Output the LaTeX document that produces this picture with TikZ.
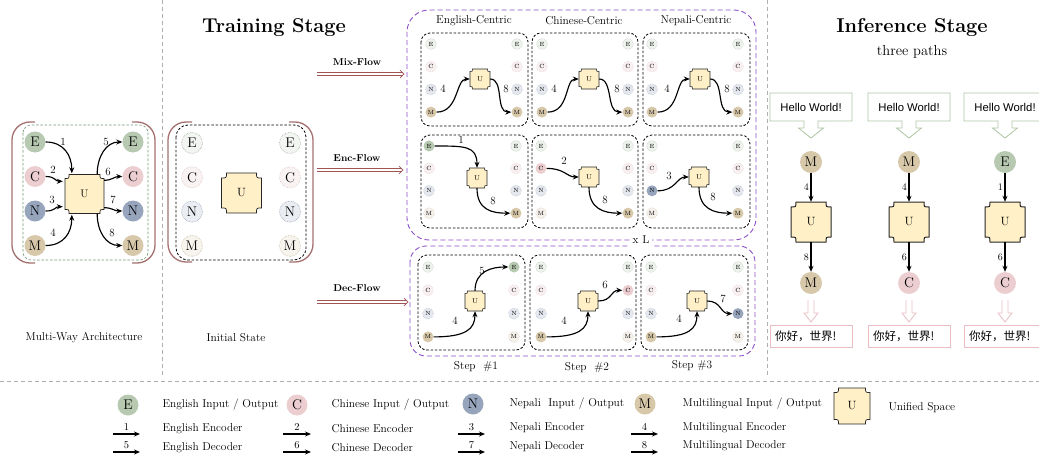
\documentclass[tikz,border=0pt]{standalone}
\usepackage{fontspec}
\newfontfamily\hwfont{Liberation Sans}
\newfontfamily\cjkfont{Noto Sans CJK SC}
\usetikzlibrary{arrows.meta,calc}
\definecolor{cE}{RGB}{183,201,176}
\definecolor{cC}{RGB}{236,206,208}
\definecolor{cN}{RGB}{151,165,188}
\definecolor{cM}{RGB}{216,200,170}
\definecolor{cU}{RGB}{255,240,200}
\definecolor{cPar}{RGB}{165,112,112}
\definecolor{cPur}{RGB}{140,80,200}
\definecolor{cFlow}{RGB}{160,85,85}
\definecolor{cHello}{RGB}{175,195,165}
\definecolor{cNi}{RGB}{232,190,196}
\definecolor{cDiv}{RGB}{175,175,175}
\definecolor{cGdash}{RGB}{120,150,120}
\newcommand\fsz[1]{\fontsize{#1}{#1}\selectfont}
\newcommand\Ushape[6]{%
  \begin{scope}[shift={#2}]
  \path[fill=cU,draw=black!85,line width=#5] (-#3+#4,-#3) -- (#3-#4,-#3)
    .. controls (#3-#4,-#3+#4) .. (#3,-#3+#4) -- (#3,#3-#4)
    .. controls (#3-#4,#3-#4) .. (#3-#4,#3) -- (-#3+#4,#3)
    .. controls (-#3+#4,#3-#4) .. (-#3,#3-#4) -- (-#3,-#3+#4)
    .. controls (-#3+#4,-#3+#4) .. (-#3+#4,-#3) -- cycle;
  \end{scope}
  \node[inner sep=0pt,minimum size=2*#3,font=#6] (#1) at #2 {U};}
\newcommand\gridcol[5]{%
  \foreach \l/\s [count=\i from 0] in {#5} {\node[\s] (#1\l) at (#2,#3+\i*#4) {\l};}}
\newcommand\hello[2]{%
  \draw[cHello,line width=0.8pt] (#2-41,93) -- (#2+41,93) -- (#2+41,121) -- (#2+7,121) -- (#2+7,128) -- (#2+12.5,128) -- (#2,138) -- (#2-12.5,128) -- (#2-7,128) -- (#2-7,121) -- (#2-41,121) -- cycle;
  \node[font=\hwfont\fsz{11.3}] (#1) at (#2,107) {Hello World!};}
\newcommand\hollowdown[1]{%
  \draw[cNi,line width=0.8pt] (#1-3,300) -- (#1-3,313) -- (#1-7,313) -- (#1,322) -- (#1+7,313) -- (#1+3,313) -- (#1+3,300);}
\newcommand\flowarrow[2]{%
  \draw[cFlow,line width=0.7pt] ($(#1)+(0,-1.4)$) -- ($(#2)+(-1.5,-1.4)$);
  \draw[cFlow,line width=0.7pt] ($(#1)+(0,1.4)$) -- ($(#2)+(-1.5,1.4)$);
  \draw[cFlow,line width=0.7pt] ($(#2)+(-4,-3.8)$) -- (#2) -- ($(#2)+(-4,3.8)$);}
\begin{document}
\begin{tikzpicture}[x=1pt,y=-1pt,
 conn/.style={line width=1.15pt,-{Stealth[length=6pt,width=5pt]}},
 num/.style={inner sep=0pt,font=\fsz{11}},
 numi/.style={inner sep=1.5pt,font=\fsz{10}},
 big/.style={circle,inner sep=0pt,minimum size=21pt,font=\fsz{14}},
 bE/.style={big,fill=cE}, bC/.style={big,fill=cC}, bN/.style={big,fill=cN}, bM/.style={big,fill=cM},
 fad/.style={densely dotted,line width=0.6pt},
 fbE/.style={big,fad,fill=cE!18,draw=cE!60!gray},
 fbC/.style={big,fad,fill=cC!25,draw=cC!80!gray},
 fbN/.style={big,fad,fill=cN!20,draw=cN!80!gray},
 fbM/.style={big,fad,fill=cM!20,draw=cM!80!gray},
 sm/.style={circle,inner sep=0pt,minimum size=11pt,font=\fsz{6}},
 sE/.style={sm,fill=cE}, sC/.style={sm,fill=cC}, sN/.style={sm,fill=cN}, sM/.style={sm,fill=cM},
 fE/.style={sm,fad,line width=0.4pt,fill=cE!22,draw=cE!60!gray},
 fC/.style={sm,fad,line width=0.4pt,fill=cC!30,draw=cC!80!gray},
 fN/.style={sm,fad,line width=0.4pt,fill=cN!25,draw=cN!80!gray},
 fM/.style={sm,fad,line width=0.4pt,fill=cM!25,draw=cM!80!gray},
 dbox/.style={line width=0.8pt,rounded corners=9,dash pattern=on 2.5pt off 1.8pt},
 purdash/.style={draw=cPur,line width=0.9pt,dash pattern=on 5pt off 3pt},
 parb/.style={draw=cPar,line width=1.3pt,rounded corners=18},
 flowlbl/.style={font=\bfseries\fsz{10}},
 txt/.style={font=\fsz{11.4}},
 ttl/.style={font=\bfseries\fsz{20}},
 divline/.style={draw=cDiv,line width=0.6pt,dash pattern=on 4pt off 3pt},
]
\useasboundingbox (0,0) rectangle (1039,455);
% dividers
\draw[divline] (162,0) -- (162,377);
\draw[divline] (767,0) -- (767,377);
\draw[divline] (0,381) -- (1039,381);

% ---------- Multi-Way Architecture
\draw[parb] (35,122) -- (12,122) -- (12,263) -- (35,263);
\draw[parb] (132,122) -- (155,122) -- (155,263) -- (132,263);
\draw[cGdash,line width=0.6pt,rounded corners=8,dash pattern=on 2.5pt off 1.8pt] (23,125) rectangle (148,260);
\gridcol{mwL}{35}{142}{34.5}{E/bE,C/bC,N/bN,M/bM}
\gridcol{mwR}{133}{142}{34.5}{E/bE,C/bC,N/bN,M/bM}
\Ushape{mwU}{(84.5,194)}{19.5}{4}{0.7pt}{\fsz{11}}
\draw[conn] (mwLE.east) .. controls +(18,0) and +(0,-18) .. ($(mwU.north west)+(7,-1)$);
\draw[conn] (mwLC.east) .. controls +(10,0) and +(-8,0) .. ($(mwU.north west)+(-2,7)$);
\draw[conn] (mwLN.east) .. controls +(10,0) and +(-8,0) .. ($(mwU.south west)+(-2,-7)$);
\draw[conn] (mwLM.east) .. controls +(18,0) and +(0,18) .. ($(mwU.south west)+(7,1)$);
\draw[conn] ($(mwU.north east)+(-7,0)$) .. controls +(0,-18) and +(-16,0) .. (mwRE.west);
\draw[conn] ($(mwU.north east)+(0,6)$) .. controls +(8,0) and +(-8,0) .. (mwRC.west);
\draw[conn] ($(mwU.south east)+(0,-6)$) .. controls +(8,0) and +(-8,0) .. (mwRN.west);
\draw[conn] ($(mwU.south east)+(-7,0)$) .. controls +(0,18) and +(-16,0) .. (mwRM.west);
\node[num] (mw1) at (63,142) {1};
\node[num] (mw2) at (53,170) {2};
\node[num] (mw3) at (52,200) {3};
\node[num] (mw4) at (53,233) {4};
\node[num] (mw5) at (106,142) {5};
\node[num] (mw6) at (108,172) {6};
\node[num] (mw7) at (113,200) {7};
\node[num] (mw8) at (112,233) {8};
\node[txt] (capMW) at (84,338) {Multi-Way Architecture};

% ---------- Initial State
\draw[parb] (192,122) -- (168,122) -- (168,262) -- (192,262);
\draw[parb] (289,122) -- (313,122) -- (313,262) -- (289,262);
\draw[dbox,rounded corners=12] (176,125) rectangle (306,260);
\gridcol{isL}{192}{143}{34.3}{E/fbE,C/fbC,N/fbN,M/fbM}
\gridcol{isR}{290}{143}{34.3}{E/fbE,C/fbC,N/fbN,M/fbM}
\Ushape{isU}{(241.5,193)}{20}{5}{0.7pt}{\fsz{12}}
\node[txt] (capIS) at (236,338) {Initial State};

% ---------- Training stage titles and flows
\node[ttl] (tTrain) at (274,28) {Training Stage};
\coordinate (mixA) at (317,74); \coordinate (mixB) at (404,74);
\coordinate (encA) at (317,170); \coordinate (encB) at (403,170);
\coordinate (decA) at (317,302); \coordinate (decB) at (408,302);
\flowarrow{mixA}{mixB}
\flowarrow{encA}{encB}
\flowarrow{decA}{decB}
\node[flowlbl] (mixL) at (357,62) {Mix-Flow};
\node[flowlbl] (encL) at (357,158) {Enc-Flow};
\node[flowlbl] (decL) at (357,288) {Dec-Flow};

\draw[purdash,rounded corners=22] (407,10) rectangle (756,240);
\draw[purdash,rounded corners=16] (410,246) rectangle (755,356);
\node[txt,fill=white,inner sep=3pt] (xL) at (641,240) {x L};

\node[txt] (hEC) at (474,21) {English-Centric};
\node[txt] (hCC) at (584,21) {Chinese-Centric};
\node[txt] (hNC) at (696,21) {Nepali-Centric};

% row 1 boxes
\draw[dbox] (421,33) rectangle (528,126);
\draw[dbox] (532,33) rectangle (638,126);
\draw[dbox] (643,33) rectangle (750,126);
% row 2 boxes
\draw[dbox] (421,135) rectangle (528,228);
\draw[dbox] (532,135) rectangle (638,228);
\draw[dbox] (643,135) rectangle (750,228);
% row 3 boxes
\draw[dbox] (418,255) rectangle (525,350);
\draw[dbox] (530,255) rectangle (636,350);
\draw[dbox] (641,255) rectangle (748,350);

% row 1 (Mix)
\gridcol{aL}{431}{44}{22.7}{E/fE,C/fC,N/fN,M/sM}
\gridcol{aR}{517}{44}{22.7}{E/fE,C/fC,N/fN,M/sM}
\Ushape{aU}{(480,79)}{10}{2.5}{0.6pt}{\fsz{7}}
\draw[conn] (aLM.east) .. controls +(22,0) and +(-14,0) .. (aU.west);
\draw[conn] (aU.east) .. controls +(14,0) and +(-16,0) .. (aRM.west);
\node[num] (a4) at (443,89) {4};
\node[num] (a8) at (506,89) {8};

\gridcol{bL}{542}{44}{22.7}{E/fE,C/fC,N/fN,M/sM}
\gridcol{bR}{628}{44}{22.7}{E/fE,C/fC,N/fN,M/sM}
\Ushape{bU}{(589,79)}{10}{2.5}{0.6pt}{\fsz{7}}
\draw[conn] (bLM.east) .. controls +(22,0) and +(-14,0) .. (bU.west);
\draw[conn] (bU.east) .. controls +(14,0) and +(-16,0) .. (bRM.west);
\node[num] (b4) at (554,89) {4};
\node[num] (b8) at (617,89) {8};

\gridcol{cL}{652}{44}{22.7}{E/fE,C/fC,N/fN,M/sM}
\gridcol{cR}{738}{44}{22.7}{E/fE,C/fC,N/fN,M/sM}
\Ushape{cU}{(700,79)}{10}{2.5}{0.6pt}{\fsz{7}}
\draw[conn] (cLM.east) .. controls +(22,0) and +(-14,0) .. (cU.west);
\draw[conn] (cU.east) .. controls +(14,0) and +(-16,0) .. (cRM.west);
\node[num] (c4) at (667,89) {4};
\node[num] (c8) at (727,89) {8};

% row 2 (Enc)
\gridcol{dL}{429}{146}{22.4}{E/sE,C/fC,N/fN,M/fM}
\gridcol{dR}{516}{146}{22.4}{E/fE,C/fC,N/fN,M/sM}
\Ushape{dU}{(477,178)}{10}{2.5}{0.6pt}{\fsz{7}}
\draw[conn] (dLE.east) .. controls +(30,0) and +(0,-22) .. (dU.north);
\draw[conn] (dU.south) .. controls +(0,22) and +(-18,0) .. (dRM.west);
\node[num] (d1) at (461,140) {1};
\node[num] (d8) at (493,201) {8};

\gridcol{eL}{541}{146}{22.4}{E/fE,C/sC,N/fN,M/fM}
\gridcol{eR}{628}{146}{22.4}{E/fE,C/fC,N/fN,M/sM}
\Ushape{eU}{(589,177)}{10}{2.5}{0.6pt}{\fsz{7}}
\draw[conn] (eLC.east) .. controls +(18,0) and +(-12,0) .. (eU.west);
\draw[conn] (eU.south) .. controls +(0,22) and +(-18,0) .. (eRM.west);
\node[num] (e2) at (564,161) {2};
\node[num] (e8) at (605,200) {8};

\gridcol{fL}{652}{146}{22.4}{E/fE,C/fC,N/sN,M/fM}
\gridcol{fR}{738}{146}{22.4}{E/fE,C/fC,N/fN,M/sM}
\Ushape{fU}{(699,177)}{10}{2.5}{0.6pt}{\fsz{7}}
\draw[conn] (fLN.east) .. controls +(18,0) and +(-12,0) .. (fU.west);
\draw[conn] (fU.south) .. controls +(0,22) and +(-18,0) .. (fRM.west);
\node[num] (f3) at (669,176) {3};
\node[num] (f8) at (713,197) {8};

% row 3 (Dec)
\gridcol{gL}{428}{267}{23.3}{E/fE,C/fC,N/fN,M/sM}
\gridcol{gR}{514}{267}{23.3}{E/sE,C/fC,N/fN,M/fM}
\Ushape{gU}{(475,301)}{10}{2.5}{0.6pt}{\fsz{7}}
\draw[conn] (gLM.east) .. controls +(32,0) and +(0,18) .. (gU.south);
\draw[conn] (gU.north) .. controls +(0,-20) and +(-16,0) .. (gRE.west);
\node[num] (g4) at (455,321) {4};
\node[num] (g5) at (482,271) {5};

\gridcol{hL}{541}{267}{23.3}{E/fE,C/fC,N/fN,M/sM}
\gridcol{hR}{628}{267}{23.3}{E/fE,C/sC,N/fN,M/fM}
\Ushape{hU}{(588,301)}{10}{2.5}{0.6pt}{\fsz{7}}
\draw[conn] (hLM.east) .. controls +(32,0) and +(0,18) .. (hU.south);
\draw[conn] (hU.east) .. controls +(14,0) and +(-12,0) .. (hRC.west);
\node[num] (h4) at (564,321) {4};
\node[num] (h6) at (605,285) {6};

\gridcol{iL}{651}{267}{23.3}{E/fE,C/fC,N/fN,M/sM}
\gridcol{iR}{738}{267}{23.3}{E/fE,C/fC,N/sN,M/fM}
\Ushape{iU}{(697,301)}{10}{2.5}{0.6pt}{\fsz{7}}
\draw[conn] (iLM.east) .. controls +(32,0) and +(0,18) .. (iU.south);
\draw[conn] (iU.east) .. controls +(14,0) and +(-12,0) .. (iRN.west);
\node[num] (i4) at (679,319) {4};
\node[num] (i7) at (723,299) {7};

\node[txt] (st1) at (476,367) {Step~ \#1};
\node[txt] (st2) at (587,368) {Step~ \#2};
\node[txt] (st3) at (692,366) {Step \#3};

% ---------- Inference
\node[ttl] (tInf) at (912,28) {Inference Stage};
\node[font=\fsz{14.5}] (tPaths) at (912,52) {three paths};
\hello{hw1}{811}
\hello{hw2}{909}
\hello{hw3}{1005}
\node[bM,minimum size=22pt] (p1a) at (811,162) {M};
\node[bM,minimum size=22pt] (p2a) at (909,162) {M};
\node[bE,minimum size=22pt] (p3a) at (1005,162) {E};
\Ushape{p1U}{(811,222)}{20}{5}{1pt}{\fsz{12}}
\Ushape{p2U}{(909,222)}{20}{5}{1pt}{\fsz{12}}
\Ushape{p3U}{(1005,222)}{20}{5}{1pt}{\fsz{12}}
\node[bM,minimum size=22pt] (p1b) at (811,283) {M};
\node[bC,minimum size=22pt] (p2b) at (909,283) {C};
\node[bC,minimum size=22pt] (p3b) at (1005,283) {C};
\draw[conn] (p1a) -- node[left,numi] {4} (p1U);
\draw[conn] (p2a) -- node[left,numi] {4} (p2U);
\draw[conn] (p3a) -- node[left,numi] {1} (p3U);
\draw[conn] (p1U) -- node[left,numi] {8} (p1b);
\draw[conn] (p2U) -- node[left,numi] {6} (p2b);
\draw[conn] (p3U) -- node[left,numi] {6} (p3b);
\hollowdown{811}
\hollowdown{909}
\hollowdown{1005}
\node[draw=cNi,line width=1pt,minimum height=22pt,text width=72pt,inner xsep=5pt,align=left,font=\cjkfont\fsz{11.5}] (z1) at (811,336) {你好，世界!};
\node[draw=cNi,line width=1pt,minimum height=22pt,text width=72pt,inner xsep=5pt,align=left,font=\cjkfont\fsz{11.5}] (z2) at (909,336) {你好，世界!};
\node[draw=cNi,line width=1pt,minimum height=22pt,text width=72pt,inner xsep=5pt,align=left,font=\cjkfont\fsz{11.5}] (z3) at (1005,336) {你好，世界!};

% ---------- Legend
\node[bE] (lE) at (128,405) {E};
\node[bC] (lC) at (297,405) {C};
\node[bN] (lN) at (473,404) {N};
\node[bM] (lM) at (645,404) {M};
\Ushape{lU}{(852,406)}{18}{4.5}{0.7pt}{\fsz{12}}
\node[txt,anchor=west] (lEt) at (159,405) {English Input / Output};
\node[txt,anchor=west] (lCt) at (328,405) {Chinese Input / Output};
\node[txt,anchor=west] (lNt) at (506,404) {Nepali~ Input / Output};
\node[txt,anchor=west] (lMt) at (679,404) {Multilingual Input / Output};
\node[txt,anchor=west] (lUt) at (885,408) {Unified Space};
\node[txt,anchor=west] (lEe) at (159,429) {English Encoder};
\node[txt,anchor=west] (lEd) at (159,448) {English Decoder};
\node[txt,anchor=west] (lCe) at (328,429) {Chinese Encoder};
\node[txt,anchor=west] (lCd) at (328,448) {Chinese Decoder};
\node[txt,anchor=west] (lNe) at (506,428) {Nepali Encoder};
\node[txt,anchor=west] (lNd) at (506,447) {Nepali Decoder};
\node[txt,anchor=west] (lMe) at (679,428) {Multilingual Encoder};
\node[txt,anchor=west] (lMd) at (679,446) {Multilingual Decoder};
\foreach \nm/\xa/\xb/\ta/\tb in {E/113/140/1/5, C/283/311/2/6, N/458/485/3/7, M/631/658/4/8}{
  \coordinate (a\nm1) at (\xa,434); \coordinate (b\nm1) at (\xb,434);
  \coordinate (a\nm2) at (\xa,452); \coordinate (b\nm2) at (\xb,452);
  \draw[conn] (a\nm1) -- node[above=2.5pt,num,font=\fsz{10.5}] {\ta} (b\nm1);
  \draw[conn] (a\nm2) -- node[above=2.5pt,num,font=\fsz{10.5}] {\tb} (b\nm2);
}
\end{tikzpicture}
\end{document}
